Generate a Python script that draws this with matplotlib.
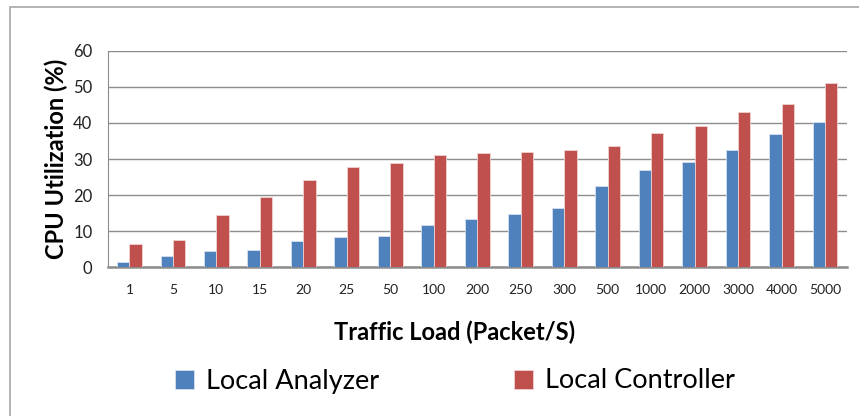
import matplotlib
matplotlib.use("Agg")
import matplotlib.pyplot as plt
import numpy as np
from matplotlib.patches import Rectangle

plt.rcParams["font.family"] = ["Lato", "DejaVu Sans"]

loads = ["1", "5", "10", "15", "20", "25", "50", "100", "200", "250",
         "300", "500", "1000", "2000", "3000", "4000", "5000"]
analyzer = [1.6, 3.2, 4.5, 4.9, 7.4, 8.4, 8.7, 11.8, 13.5, 14.7,
            16.4, 22.5, 26.9, 29.2, 32.4, 37.0, 40.3]
controller = [6.5, 7.7, 14.6, 19.6, 24.1, 27.7, 28.9, 31.2, 31.6, 31.9,
              32.5, 33.6, 37.1, 39.3, 43.0, 45.2, 51.2]

BLUE = "#4f81bd"
RED = "#c0504d"
GRID = "#8c8c8c"

fig = plt.figure(figsize=(8.59, 4.16), dpi=100)
ax = fig.add_axes([0.1254, 0.357, 0.8603, 0.521])

# outer chart-area frame (runs off the right and bottom edges)
fig.patches.append(Rectangle((10 / 859, -0.05), 1.0, 1 - 6.5 / 416 + 0.05,
                             transform=fig.transFigure, fill=False,
                             edgecolor="#a6a6a6", linewidth=1.2))

x = np.arange(len(loads))
w = 0.285
ax.bar(x - w / 2, analyzer, w, color=BLUE, edgecolor="#d6e0ee", linewidth=0.6,
       label="Local Analyzer", zorder=3)
ax.bar(x + w / 2, controller, w, color=RED, edgecolor="#efd2d1", linewidth=0.6,
       label="Local Controller", zorder=3)

ax.set_xlim(-0.5, len(loads) - 0.5)
ax.set_ylim(0, 60)
ax.set_yticks(range(0, 61, 10))
ax.set_xticks(x)
ax.set_xticklabels(loads)
ax.yaxis.grid(True, color=GRID, linewidth=1.0, zorder=0)
ax.tick_params(length=0, colors="#222222")
ax.tick_params(axis="x", pad=12, labelsize=10)
ax.tick_params(axis="y", pad=11, labelsize=12)
for side in ("top", "right"):
    ax.spines[side].set_visible(False)
ax.spines["left"].set_color(GRID)
ax.spines["bottom"].set_color(GRID)
ax.spines["bottom"].set_linewidth(1.8)

ax.set_ylabel("CPU Utilization (%)", fontsize=17, fontweight="bold")
ax.yaxis.set_label_coords(-0.054, 0.5)
ax.set_xlabel("Traffic Load (Packet/S)", fontsize=17, fontweight="bold")
ax.xaxis.set_label_coords(0.47, -0.247)

fig.legend(loc="center", bbox_to_anchor=(455 / 859, 1 - 381 / 416), ncol=2,
           frameon=False, fontsize=19.5, handlelength=0.7, handleheight=0.7,
           handletextpad=0.45, columnspacing=5.0)

fig.savefig("out.png", dpi=100)
